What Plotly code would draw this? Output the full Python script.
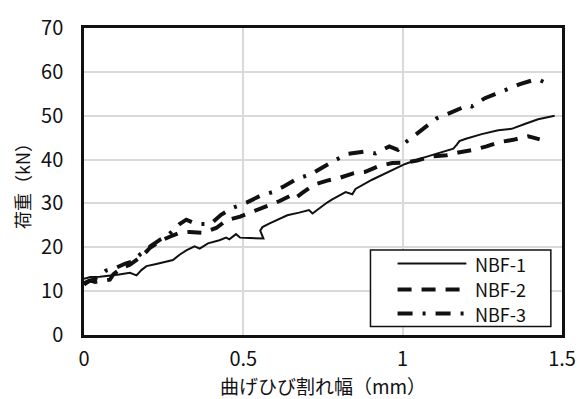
import plotly.graph_objects as go

# Crack width (mm) vs. load (kN) for the three specimens
nbf1_x = [0, 0.02, 0.05, 0.081, 0.11, 0.144, 0.165, 0.18, 0.196, 0.227, 0.263, 0.279,
          0.30, 0.321, 0.347, 0.363, 0.389, 0.425, 0.446, 0.456, 0.477, 0.49, 0.52,
          0.563, 0.553, 0.56, 0.581, 0.6125, 0.638, 0.675, 0.706, 0.717, 0.743, 0.763,
          0.779, 0.821, 0.842, 0.852, 0.904, 0.946, 0.977, 1.008, 1.05, 1.092, 1.133,
          1.159, 1.17, 1.178, 1.196, 1.248, 1.3, 1.342, 1.383, 1.425, 1.477]
nbf1_y = [12.8, 13.2, 13.3, 13.5, 13.8, 14.2, 13.6, 14.8, 15.7, 16.2, 16.8, 17.1,
          18.3, 19.3, 20.2, 19.7, 20.9, 21.6, 22.2, 21.8, 23.0, 22.2, 22.1,
          22.0, 23.8, 24.6, 25.4, 26.5, 27.3, 27.9, 28.5, 27.7, 29.2, 30.2,
          30.9, 32.6, 32.1, 33.3, 35.4, 36.9, 38.0, 39.0, 40.1, 41.0, 41.9,
          42.5, 43.4, 44.2, 44.7, 45.8, 46.7, 47.0, 48.1, 49.2, 50.0]

nbf2_x = [0, 0.02, 0.035, 0.06, 0.081, 0.092, 0.118, 0.144, 0.165, 0.185, 0.206, 0.2375,
          0.269, 0.30, 0.331, 0.373, 0.415, 0.446, 0.49, 0.529, 0.571, 0.6125, 0.654,
          0.665, 0.685, 0.722, 0.763, 0.805, 0.847, 0.883, 0.925, 0.967, 1.008, 1.045,
          1.092, 1.138, 1.175, 1.222, 1.263, 1.305, 1.347, 1.394, 1.41, 1.43]
nbf2_y = [11.8, 12.4, 12.1, 12.4, 12.6, 13.8, 15.3, 16.0, 17.0, 18.2, 19.8, 21.4,
          22.4, 23.3, 23.5, 23.3, 24.4, 26.1, 27.0, 28.1, 29.5, 30.5, 32.0,
          31.3, 32.4, 34.3, 35.2, 35.9, 36.9, 37.2, 38.5, 39.2, 39.3, 39.8,
          40.7, 41.0, 41.6, 42.2, 43.0, 44.0, 44.5, 45.3, 45.0, 44.6]

nbf3_x = [0, 0.015, 0.03, 0.05, 0.069, 0.1, 0.13, 0.153, 0.178, 0.21, 0.24, 0.26, 0.284,
          0.30, 0.321, 0.352, 0.397, 0.43, 0.467, 0.51, 0.555, 0.592, 0.628, 0.670,
          0.711, 0.753, 0.784, 0.828, 0.878, 0.915, 0.958, 0.985, 1.003, 1.0375, 1.071,
          1.107, 1.151, 1.19, 1.205, 1.217, 1.258, 1.29, 1.331, 1.368, 1.404, 1.425, 1.446]
nbf3_y = [11.5, 12.3, 12.6, 13.6, 14.7, 15.3, 16.3, 16.8, 18.5, 20.3, 21.8, 22.5, 24.1,
          25.3, 26.3, 25.3, 25.3, 27.4, 29.0, 30.2, 31.8, 32.6, 33.9, 35.7,
          36.6, 38.5, 39.7, 41.3, 41.8, 41.4, 43.0, 42.2, 43.6, 45.5, 47.5,
          49.4, 50.7, 51.8, 52.4, 52.1, 54.0, 54.9, 56.2, 57.2, 58.0, 58.3, 57.6]

series_names = ["NBF-1", "NBF-2", "NBF-3"]
x_ticks = [0, 0.5, 1, 1.5]
x_tick_text = ["0", "0.5", "1", "1.5"]
y_ticks = [0, 10, 20, 30, 40, 50, 60, 70]

FONT = "Noto Sans CJK JP"
INK = "#111111"
styles = [
    dict(width=2, dash="solid"),
    dict(width=4, dash="14px,10px"),
    dict(width=4, dash="15px,10px,3px,10px"),
]

fig = go.Figure()
for name, xs, ys, st in zip(series_names, [nbf1_x, nbf2_x, nbf3_x],
                            [nbf1_y, nbf2_y, nbf3_y], styles):
    fig.add_trace(go.Scatter(x=xs, y=ys, mode="lines", name=name,
                             line=dict(color=INK, width=st["width"], dash=st["dash"]),
                             showlegend=False))

# Boxed legend in the lower right of the plot area
box = dict(x0=0.899, x1=1.465, y0=1.93, y1=19.4)
fig.add_shape(type="rect", xref="x", yref="y", **box,
              fillcolor="white", line=dict(color=INK, width=1.5), layer="above")
rows_y = [16.3, 10.4, 4.9]
for name, st, ry in zip(series_names, styles, rows_y):
    fig.add_shape(type="line", xref="x", yref="y", x0=0.984, x1=1.2, y0=ry, y1=ry,
                  line=dict(color=INK, width=st["width"], dash=st["dash"]), layer="above")
    fig.add_annotation(x=1.222, y=ry, xref="x", yref="y", text=name, showarrow=False,
                       xanchor="left", yanchor="middle",
                       font=dict(family=FONT, size=18, color=INK))

fig.update_layout(
    width=588, height=399,
    margin=dict(l=84, r=24, t=21, b=62),
    paper_bgcolor="white", plot_bgcolor="white",
    font=dict(family=FONT, size=20, color=INK),
)
fig.update_xaxes(
    range=[0, 1.5], tickvals=x_ticks, ticktext=x_tick_text,
    showgrid=True, gridcolor="#d9d9d9", gridwidth=1.5, zeroline=False,
    showline=True, linecolor=INK, linewidth=2.5, mirror=True,
    ticks="", ticklabelstandoff=4,
    tickfont=dict(family=FONT, size=20, color=INK),
    title=dict(text="曲げひび割れ幅（mm）", font=dict(family=FONT, size=19), standoff=2),
)
fig.update_yaxes(
    range=[0, 70], tickvals=y_ticks,
    showgrid=True, gridcolor="#d9d9d9", gridwidth=1.5, zeroline=False,
    showline=True, linecolor=INK, linewidth=2.5, mirror=True,
    ticks="", ticklabelstandoff=14,
    tickfont=dict(family=FONT, size=20, color=INK),
    title=dict(text="荷重（kN）", font=dict(family=FONT, size=18), standoff=6),
)

fig.write_html("out.html")
